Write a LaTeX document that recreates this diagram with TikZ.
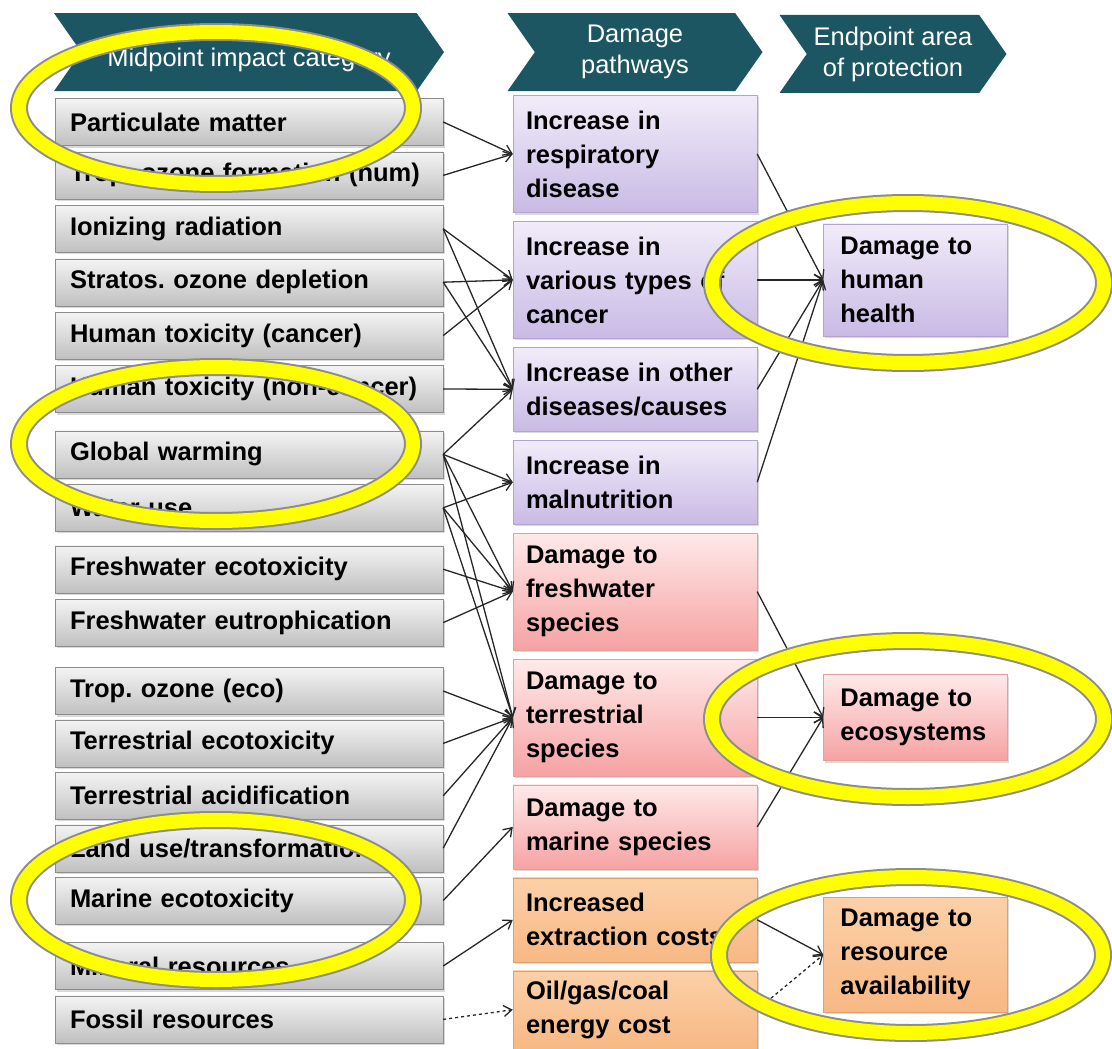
\documentclass[tikz,border=0pt]{standalone}
\usepackage{fontspec}
\setmainfont{Liberation Sans}
\usetikzlibrary{chains,positioning,shapes.symbols,shadows,arrows.meta}
\frenchspacing

\newcommand{\txtbox}{\bfseries\fontsize{25.5}{34}\selectfont}
\newcommand{\txthead}{\fontsize{25.5}{31}\selectfont}

\definecolor{bandeau}{RGB}{28,86,98}
\definecolor{grishaut}{RGB}{244,244,244}
\definecolor{grisbas}{RGB}{192,192,192}
\definecolor{grisbord}{RGB}{140,140,140}
\definecolor{violhaut}{RGB}{241,236,249}
\definecolor{violbas}{RGB}{201,186,229}
\definecolor{violbord}{RGB}{178,163,210}
\definecolor{rosehaut}{RGB}{255,233,233}
\definecolor{rosebas}{RGB}{246,162,162}
\definecolor{rosebord}{RGB}{228,158,158}
\definecolor{orhaut}{RGB}{252,208,168}
\definecolor{orbas}{RGB}{247,184,132}
\definecolor{orbord}{RGB}{222,160,112}
\definecolor{surligne}{RGB}{255,255,0}

\begin{document}
\begin{tikzpicture}
  [ x=1pt, y=1pt,
    node distance=6pt and 66pt,
    dou/.style={-{Straight Barb[length=8pt,width=11pt]}, draw=black!85, line width=1.3pt}]
  \tikzset{
    base/.style={
      align=left, inner ysep=0pt,
      drop shadow={opacity=0.3, shadow xshift=1.5pt, shadow yshift=-2pt},
    },
    midpoint/.style={
      base, on chain, font=\txtbox,
      draw=grisbord, top color=grishaut, bottom color=grisbas,
      minimum height=47pt, text width=358pt, inner xsep=15pt,
    },
    pathway/.style={
      base, on chain, font=\txtbox,
      minimum height=84pt, text width=218pt, inner xsep=13pt,
    },
    endpoint/.style={
      base, font=\txtbox,
      text width=150pt, inner xsep=17pt,
    },
    humain/.style={draw=violbord, top color=violhaut, bottom color=violbas},
    ecosys/.style={draw=rosebord, top color=rosehaut, bottom color=rosebas},
    ressource/.style={draw=orbord, top color=orhaut, bottom color=orbas},
    entete/.style={
      shape=signal, signal from=west, signal to=east, signal pointer angle=110,
      fill=bandeau, text=white, font=\txthead, align=center, inner sep=0pt,
      minimum height=78pt,
    },
    jaune/.style={draw=surligne, line width=14pt,
      preaction={draw=black!45, line width=18pt}},
  }
  \useasboundingbox (0,0) rectangle (1112,-1049);

  % midpoint categories
  \begin{scope}[start chain=cat going below]
    \node[midpoint] (pm) at (249,-122) {Particulate matter};
    \node[midpoint] (tropH) {Trop. ozone formation (hum)};
    \node[midpoint] (ionis) {Ionizing radiation};
    \node[midpoint] (strat) {Stratos. ozone depletion};
    \node[midpoint] (htc) {Human toxicity (cancer)};
    \node[midpoint] (htnc) {Human toxicity (non-cancer)};
    \node[midpoint, yshift=-12pt] (gw) {Global warming};
    \node[midpoint] (water) {Water use};
    \node[midpoint, yshift=-8pt] (fweco) {Freshwater ecotoxicity};
    \node[midpoint] (fweut) {Freshwater eutrophication};
    \node[midpoint, yshift=-15pt] (tropE) {Trop. ozone (eco)};
    \node[midpoint, yshift=1pt] (terreco) {Terrestrial ecotoxicity};
    \node[midpoint, yshift=1pt] (terracid) {Terrestrial acidification};
    \node[midpoint, yshift=1pt] (landuse) {Land use/transformation};
    \node[midpoint, yshift=1pt] (mareco) {Marine ecotoxicity};
    \node[midpoint, yshift=-12pt] (mineral) {Mineral resources};
    \node[midpoint] (fossil) {Fossil resources};
  \end{scope}

  % damage pathways
  \begin{scope}[start chain=voies going below, node distance=8.5pt]
    \node[pathway, humain, minimum height=117pt] (resp) at (635,-154) {Increase in\\respiratory\\disease};
    \node[pathway, humain, minimum height=117pt] (cancer) {Increase in\\various types of\\cancer};
    \node[pathway, humain] (other) {Increase in other\\diseases/causes};
    \node[pathway, humain] (maln) {Increase in\\malnutrition};
    \node[pathway, ecosys, minimum height=117pt] (fresh) {Damage to\\freshwater\\species};
    \node[pathway, ecosys, minimum height=117pt] (terr) {Damage to\\terrestrial\\species};
    \node[pathway, ecosys] (marine) {Damage to\\marine species};
    \node[pathway, ressource] (extract) {Increased\\extraction costs};
    \node[pathway, ressource, minimum height=78pt] (oil) {Oil/gas/coal\\energy cost};
  \end{scope}

  % endpoints
  \node[endpoint, humain, minimum height=112pt, right=66pt of cancer] (sante) {Damage to\\human\\health};
  \node[endpoint, ecosys, minimum height=86pt, right=66pt of terr] (ecosyst) {Damage to\\ecosystems};
  \node[endpoint, ressource, minimum height=115pt, right=66pt of extract, yshift=-35pt] (dispo) {Damage to\\resource\\availability};

  % headers
  \node[entete, minimum width=390pt, text height=34pt, text depth=6pt, above=7pt of pm] (hmid) {Midpoint impact category};
  \node[entete, minimum width=255pt, above=4pt of resp] (hvoies) {Damage\\pathways};
  \node[entete, minimum width=227pt] (hend) at (893,-54) {Endpoint area\\of protection};

  \draw[dou] (pm.east) -- (resp.west);
  \draw[dou] (tropH.east) -- (resp.west);
  \draw[dou] (ionis.east) -- (cancer.west);
  \draw[dou] (ionis.east) -- (other.west);
  \draw[dou] (strat.east) -- (cancer.west);
  \draw[dou] (strat.east) -- (other.west);
  \draw[dou] (htc.east) -- (cancer.west);
  \draw[dou] (htnc.east) -- (other.west);
  \draw[dou] (gw.east) -- (other.west);
  \draw[dou] (gw.east) -- (maln.west);
  \draw[dou] (gw.east) -- (fresh.west);
  \draw[dou] (gw.east) -- (terr.west);
  \draw[dou] (water.east) -- (maln.west);
  \draw[dou] (water.east) -- (fresh.west);
  \draw[dou] (water.east) -- (terr.west);
  \draw[dou] (fweco.east) -- (fresh.west);
  \draw[dou] (fweut.east) -- (fresh.west);
  \draw[dou] (tropE.east) -- (terr.west);
  \draw[dou] (terreco.east) -- (terr.west);
  \draw[dou] (terracid.east) -- (terr.west);
  \draw[dou] (landuse.east) -- (terr.west);
  \draw[dou] (mareco.east) -- (marine.west);
  \draw[dou] (mineral.east) -- (extract.west);
  \draw[dou, dashed] (fossil.east) -- (oil.west);

  \draw[dou] (resp.east) -- (sante.west);
  \draw[dou] (cancer.east) -- (sante.west);
  \draw[dou] (other.east) -- (sante.west);
  \draw[dou] (maln.east) -- (sante.west);
  \draw[dou] (fresh.east) -- (ecosyst.west);
  \draw[dou] (terr.east) -- (ecosyst.west);
  \draw[dou] (marine.east) -- (ecosyst.west);
  \draw[dou] (extract.east) -- (dispo.west);
  \draw[dou, dashed] (oil.east) -- (dispo.west);

  % highlights
  \draw[jaune] (216,-108) ellipse [x radius=197pt, y radius=76pt];
  \draw[jaune] (216,-444) ellipse [x radius=197pt, y radius=77pt];
  \draw[jaune] (216,-900) ellipse [x radius=197pt, y radius=80pt];
  \draw[jaune] (908,-283) ellipse [x radius=196pt, y radius=80pt];
  \draw[jaune] (908,-719) ellipse [x radius=196pt, y radius=78pt];
  \draw[jaune] (911,-955) ellipse [x radius=192pt, y radius=78pt];
\end{tikzpicture}
\end{document}
